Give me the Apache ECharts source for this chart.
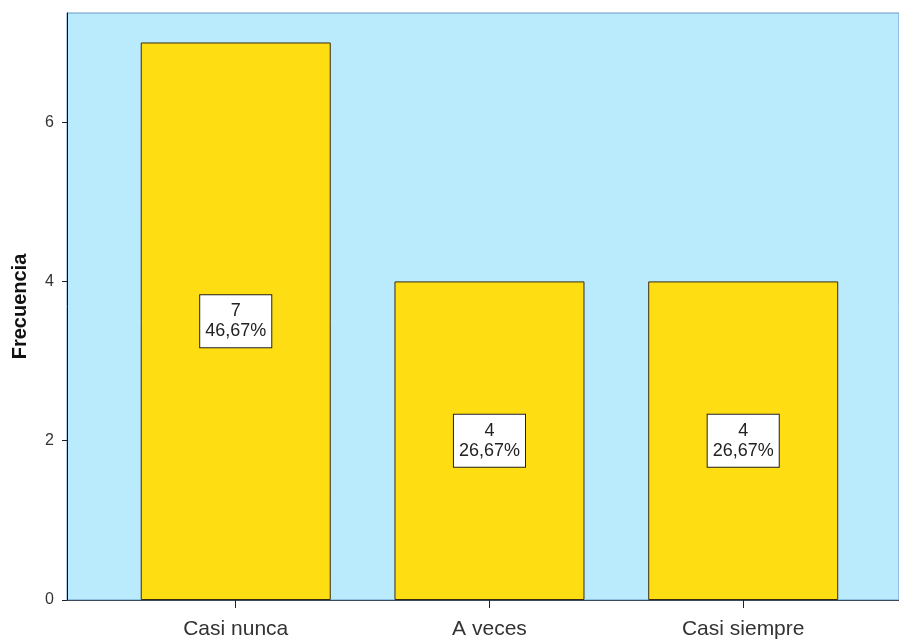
<!DOCTYPE html>
<html>
<head>
<meta charset="utf-8">
<script src="https://cdn.jsdelivr.net/npm/echarts@6/dist/echarts.min.js"></script>
<style>
  html, body { margin: 0; padding: 0; background: #ffffff; }
  #chart { width: 899px; height: 641px; }
</style>
</head>
<body>
<div id="chart"></div>
<script>
// Frequency bar chart data
const categories = ['Casi nunca', 'A veces', 'Casi siempre'];
const frequencies = [7, 4, 4];
const yTicks = [0, 2, 4, 6];

const total = frequencies.reduce((a, b) => a + b, 0);
const fmtPct = v => (v / total * 100).toFixed(2).replace('.', ',') + '%';

const chart = echarts.init(document.getElementById('chart'));
const FONT = '"Liberation Sans", Arial, sans-serif';

chart.setOption({
  animation: false,
  backgroundColor: '#ffffff',
  grid: {
    left: 67, top: 13, right: 0, bottom: 41,
    show: true,
    backgroundColor: '#b9ebfd',
    borderColor: '#6b98c8',
    borderWidth: 1
  },
  xAxis: {
    type: 'value',
    min: -0.665,
    max: 2.614,
    splitLine: { show: false },
    axisLine: { show: true, onZero: false, lineStyle: { color: '#3a4a5c', width: 1 } },
    axisTick: {
      show: true, length: 8, inside: false,
      customValues: categories.map((c, i) => i),
      lineStyle: { color: '#222', width: 1 }
    },
    axisLabel: {
      customValues: categories.map((c, i) => i),
      formatter: v => categories[Math.round(v)] || '',
      color: '#333', fontFamily: FONT, fontSize: 21, margin: 19
    }
  },
  yAxis: {
    type: 'value',
    min: 0,
    max: 7.37,
    name: 'Frecuencia',
    nameLocation: 'middle',
    nameGap: 37,
    nameTextStyle: { fontFamily: FONT, fontWeight: 'bold', fontSize: 20, color: '#111' },
    splitLine: { show: false },
    axisLine: { show: true, onZero: false, lineStyle: { color: '#111', width: 1 } },
    axisTick: {
      show: true, length: 5,
      customValues: yTicks,
      lineStyle: { color: '#222', width: 1 }
    },
    axisLabel: {
      customValues: yTicks,
      color: '#333', fontFamily: FONT, fontSize: 16, margin: 13
    }
  },
  series: [{
    type: 'bar',
    barWidth: 190,
    data: frequencies.map((v, i) => [i, v]),
    itemStyle: { color: '#fedd12', borderColor: '#3a2a10', borderWidth: 1 },
    label: {
      show: true,
      position: 'inside',
      formatter: p => p.value[1] + '\n' + fmtPct(p.value[1]),
      backgroundColor: '#ffffff',
      borderColor: '#222',
      borderWidth: 1,
      padding: [6, 5, 6, 5],
      align: 'center',
      color: '#222',
      fontFamily: FONT,
      fontSize: 18,
      lineHeight: 20
    }
  }]
});
</script>
</body>
</html>
